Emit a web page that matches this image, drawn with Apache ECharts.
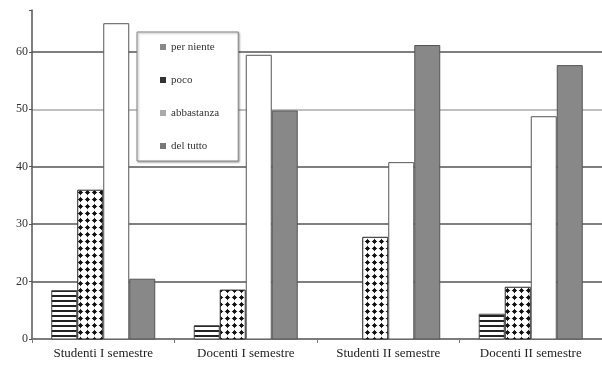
<!DOCTYPE html>
<html>
<head>
<meta charset="utf-8">
<script src="https://cdn.jsdelivr.net/npm/echarts@6/dist/echarts.min.js"></script>
<style>
html, body { margin: 0; padding: 0; background: #fff; }
#main { width: 602px; height: 366px; }
</style>
</head>
<body>
<div id="main"></div>
<script>
var categories = ['Studenti I semestre', 'Docenti I semestre', 'Studenti II semestre', 'Docenti II semestre'];
var seriesNames = ['per niente', 'poco', 'abbastanza', 'del tutto'];
// values read on the chart's own axis (the axis base sits at 10, labelled "0")
var perNiente = [18.5, 12.4, 10, 14.4];
var poco = [36, 18.6, 27.8, 19.1];
var abbastanza = [65, 59.5, 40.8, 48.8];
var delTutto = [20.5, 49.8, 61.2, 57.7];
var yTickValues = [10, 20, 30, 40, 50, 60];
var yTickLabels = ['0', '20', '30', '40', '50', '60'];

function stripes() {
  var c = document.createElement('canvas');
  c.width = 4; c.height = 5;
  var ctx = c.getContext('2d');
  ctx.fillStyle = '#fff';
  ctx.fillRect(0, 0, 4, 5);
  ctx.fillStyle = '#222';
  ctx.fillRect(0, 0, 4, 2);
  return c;
}
function dots() {
  // black four-point blobs on white, 7px repeat
  var c = document.createElement('canvas');
  c.width = 7; c.height = 7;
  var ctx = c.getContext('2d');
  ctx.fillStyle = '#fff';
  ctx.fillRect(0, 0, 7, 7);
  ctx.fillStyle = '#111';
  ctx.beginPath();
  ctx.moveTo(3.5, 0.6);
  ctx.quadraticCurveTo(3.9, 3.1, 6.4, 3.5);
  ctx.quadraticCurveTo(3.9, 3.9, 3.5, 6.4);
  ctx.quadraticCurveTo(3.1, 3.9, 0.6, 3.5);
  ctx.quadraticCurveTo(3.1, 3.1, 3.5, 0.6);
  ctx.fill();
  ctx.beginPath();
  ctx.arc(3.5, 3.5, 1.8, 0, Math.PI * 2);
  ctx.fill();
  return c;
}

var chart = echarts.init(document.getElementById('main'));
var serif = '"Liberation Serif", "DejaVu Serif", serif';

var option = {
  backgroundColor: '#fff',
  animation: false,
  grid: { left: 32, right: 0, top: 10, bottom: 27 },
  legend: {
    orient: 'vertical',
    left: 137,
    top: 32,
    padding: [8, 19, 8, 23],
    itemGap: 19,
    itemWidth: 6,
    itemHeight: 6,
    icon: 'rect',
    backgroundColor: '#fff',
    borderColor: '#888',
    borderWidth: 1,
    shadowColor: 'rgba(0,0,0,0.35)',
    shadowBlur: 2,
    shadowOffsetX: 1,
    shadowOffsetY: 1,
    textStyle: { fontFamily: serif, fontSize: 11, color: '#333', lineHeight: 14 },
    data: [
      { name: seriesNames[0], itemStyle: { color: '#888', borderWidth: 0 } },
      { name: seriesNames[1], itemStyle: { color: '#333', borderWidth: 0 } },
      { name: seriesNames[2], itemStyle: { color: '#aaa', borderWidth: 0 } },
      { name: seriesNames[3], itemStyle: { color: '#777', borderWidth: 0 } }
    ]
  },
  xAxis: {
    type: 'category',
    data: categories,
    axisLine: { lineStyle: { color: '#777', width: 1.5 } },
    axisTick: { show: true, length: 4, lineStyle: { color: '#777' } },
    axisLabel: { fontFamily: serif, fontSize: 13, color: '#222', margin: 8 }
  },
  yAxis: {
    type: 'value',
    min: 10,
    max: 67.3,
    interval: 10,
    axisLine: { show: true, lineStyle: { color: '#555', width: 1.5 } },
    axisTick: { show: true, length: 3, lineStyle: { color: '#555' } },
    axisLabel: {
      fontFamily: serif, fontSize: 12, color: '#333', margin: 4,
      formatter: function (v) {
        var i = yTickValues.indexOf(v);
        return i >= 0 ? yTickLabels[i] : '';
      }
    },
    splitLine: {
      show: true,
      lineStyle: {
        color: ['#666', '#555', '#555', '#555', '#aaa', '#555', 'rgba(0,0,0,0)'],
        width: 1.5
      }
    }
  },
  series: [
    {
      name: seriesNames[0], type: 'bar', data: perNiente,
      barGap: '0%', barCategoryGap: '27%',
      itemStyle: { color: { image: stripes(), repeat: 'repeat' }, borderColor: '#444', borderWidth: 1 }
    },
    {
      name: seriesNames[1], type: 'bar', data: poco,
      itemStyle: { color: { image: dots(), repeat: 'repeat' }, borderColor: '#222', borderWidth: 1 }
    },
    {
      name: seriesNames[2], type: 'bar', data: abbastanza,
      itemStyle: { color: '#fff', borderColor: '#555', borderWidth: 1 }
    },
    {
      name: seriesNames[3], type: 'bar', data: delTutto,
      itemStyle: { color: '#888', borderColor: '#555', borderWidth: 1 }
    }
  ]
};

chart.setOption(option);
window.addEventListener('resize', function () { chart.resize(); });
</script>
</body>
</html>
